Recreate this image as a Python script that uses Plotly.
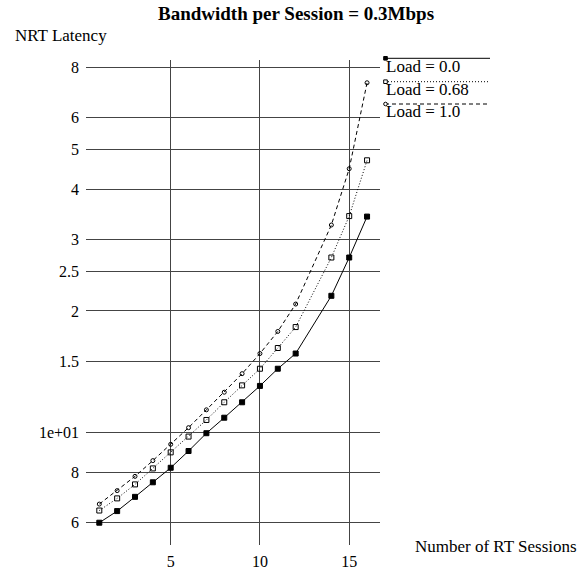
import plotly.graph_objects as go

# Data (x = number of RT sessions; no point at 13)
sessions = [1, 2, 3, 4, 5, 6, 7, 8, 9, 10, 11, 12, 14, 15, 16]
load_00 = [6.0, 6.41, 6.95, 7.55, 8.2, 9.02, 9.98, 10.9, 11.9, 13.06, 14.4, 15.7, 21.8, 27.1, 34.2]
load_068 = [6.43, 6.89, 7.46, 8.17, 8.95, 9.79, 10.76, 11.9, 13.1, 14.4, 16.2, 18.25, 27.1, 34.3, 47.1]
load_10 = [6.67, 7.2, 7.81, 8.54, 9.37, 10.3, 11.4, 12.6, 14.0, 15.7, 17.8, 20.8, 32.6, 44.9, 73.2]

series_names = ["Load = 0.0", "Load = 0.68", "Load = 1.0"]
y_tickvals = [6, 8, 10, 15, 20, 25, 30, 40, 50, 60, 80]
y_ticktext = ["6", "8", "1e+01", "1.5", "2", "2.5", "3", "4", "5", "6", "8"]
x_tickvals = [5, 10, 15]

FONT = "Liberation Serif"
W, H = 586, 573
L, R, T, B = 86, 380, 60, 545

styles = [
    dict(dash="solid", symbol="square", msize=5, mcolor="black"),
    dict(dash="1px,2px", symbol="square-open", msize=5, mcolor="black"),
    dict(dash="4px,3px", symbol="circle-open", msize=4, mcolor="black"),
]
all_series = [load_00, load_068, load_10]

fig = go.Figure()
for name, vals, st in zip(series_names, all_series, styles):
    fig.add_trace(go.Scatter(
        x=sessions, y=vals, mode="lines+markers", name=name,
        line=dict(color="black", width=1, dash=st["dash"]),
        marker=dict(symbol=st["symbol"], size=st["msize"], color=st["mcolor"],
                    line=dict(color="black", width=1)),
        showlegend=False,
    ))

def px2paper_x(px):
    return (px - L) / (R - L)

def px2paper_y(py):
    return (B - py) / (B - T)

# Custom legend (line with marker at left end, label below)
shapes = []
annotations = []
legend_y = [58.3, 81.7, 104.0]
for name, st, ly in zip(series_names, styles, legend_y):
    dash = st["dash"]
    shapes.append(dict(type="line", xref="paper", yref="paper",
                       x0=px2paper_x(385), x1=px2paper_x(490),
                       y0=px2paper_y(ly), y1=px2paper_y(ly),
                       line=dict(color="black", width=1, dash=dash)))
    annotations.append(dict(xref="paper", yref="paper", x=px2paper_x(384),
                            y=px2paper_y(ly + 8), text=name, showarrow=False,
                            xanchor="left", yanchor="middle",
                            font=dict(family=FONT, size=17, color="black")))

for st, ly in zip(styles, legend_y):
    r = 1.8
    cx, cy = 385.5, ly
    if st["symbol"].startswith("circle"):
        shapes.append(dict(type="circle", xref="paper", yref="paper",
                           x0=px2paper_x(cx - r), x1=px2paper_x(cx + r),
                           y0=px2paper_y(cy - r), y1=px2paper_y(cy + r),
                           line=dict(color="black", width=1), fillcolor="white"))
    else:
        shapes.append(dict(type="rect", xref="paper", yref="paper",
                           x0=px2paper_x(cx - r), x1=px2paper_x(cx + r),
                           y0=px2paper_y(cy - r), y1=px2paper_y(cy + r),
                           line=dict(color="black", width=1),
                           fillcolor="black" if st["symbol"] == "square" else "white"))

annotations.append(dict(xref="paper", yref="paper", x=px2paper_x(296), y=px2paper_y(14),
                        text="<b>Bandwidth per Session = 0.3Mbps</b>", showarrow=False,
                        xanchor="center", yanchor="middle",
                        font=dict(family=FONT, size=19, color="black")))
annotations.append(dict(xref="paper", yref="paper", x=px2paper_x(13), y=px2paper_y(36),
                        text="NRT Latency", showarrow=False,
                        xanchor="left", yanchor="middle",
                        font=dict(family=FONT, size=17, color="black")))
annotations.append(dict(xref="paper", yref="paper", x=px2paper_x(413), y=px2paper_y(546),
                        text="Number of RT Sessions", showarrow=False,
                        xanchor="left", yanchor="middle",
                        font=dict(family=FONT, size=17, color="black")))

fig.update_layout(
    width=W, height=H,
    margin=dict(l=L, r=W - R, t=T, b=H - B, pad=0, autoexpand=False),
    paper_bgcolor="white", plot_bgcolor="white",
    font=dict(family=FONT, size=16, color="black"),
    shapes=shapes, annotations=annotations,
    xaxis=dict(range=[0.255, 16.725], tickvals=x_tickvals, showgrid=True,
               gridcolor="#444", gridwidth=1, zeroline=False, showline=False,
               automargin=False, ticks="", ticklen=0,
               tickfont=dict(family=FONT, size=16)),
    yaxis=dict(type="log", range=[0.7231, 1.9207], tickvals=y_tickvals, ticktext=y_ticktext,
               showgrid=True, gridcolor="#444", gridwidth=1, zeroline=False,
               showline=False, automargin=False, ticks="", ticklen=0,
               tickfont=dict(family=FONT, size=16)),
)
fig.update_xaxes(ticklabelstandoff=5)
fig.update_yaxes(ticklabelstandoff=6)

fig.write_html("out.html")
